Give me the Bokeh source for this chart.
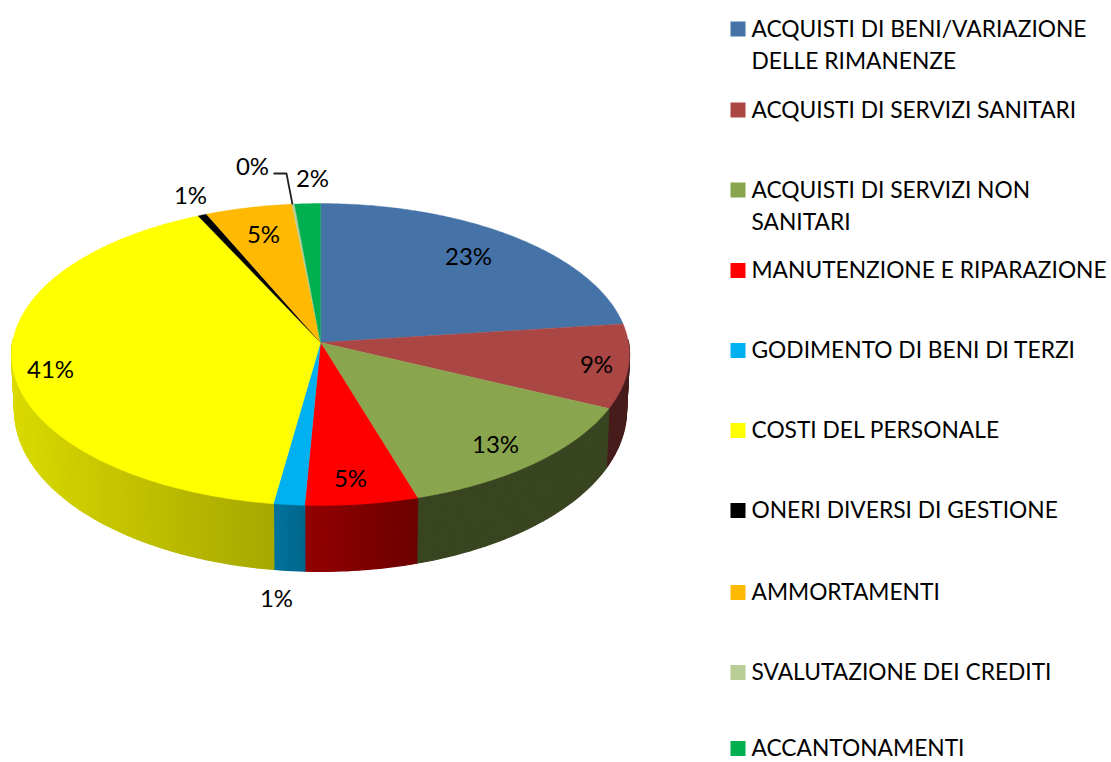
import numpy as np
from bokeh.plotting import figure
from bokeh.models import Range1d
from bokeh.core.properties import value
from bokeh.embed import file_html
from bokeh.resources import INLINE

categories = ["ACQUISTI DI BENI/VARIAZIONE\nDELLE RIMANENZE", "ACQUISTI DI SERVIZI SANITARI",
              "ACQUISTI DI SERVIZI NON\nSANITARI", "MANUTENZIONE E RIPARAZIONE",
              "GODIMENTO DI BENI DI TERZI", "COSTI DEL PERSONALE",
              "ONERI DIVERSI DI GESTIONE", "AMMORTAMENTI",
              "SVALUTAZIONE DEI CREDITI", "ACCANTONAMENTI"]
values = [23.0, 9.0, 13.3, 5.45, 1.5, 40.75, 0.5, 4.9, 0.15, 1.45]
labels = ["23%", "9%", "13%", "5%", "1%", "41%", "1%", "5%", "0%", "2%"]
colors = ["#4572A7", "#AA4643", "#89A54E", "#FF0000", "#00B0F0",
          "#FFFF00", "#000000", "#FFB900", "#B9CD96", "#00B050"]

label_x = [468, 596, 495, 350, 276, 50, 190, 263, 252, 312]
label_y = [254.5, 362.5, 442.5, 476.5, 596.5, 367.5, 193.5, 232.5, 164.5, 176.5]
legend_y = [28.5, 109.5, 189.5, 270, 350, 430, 510, 592, 672, 748]

FONT = value("Lato")
LEGEND_SIZE = "22.75px"
LABEL_SIZE = "24px"

p = figure(width=1111, height=762, output_backend="svg", toolbar_location=None,
           x_range=Range1d(0, 1111), y_range=Range1d(762, 0),
           min_border=0, outline_line_color=None, background_fill_color="white")
p.axis.visible = False
p.grid.visible = False

CX, K = 320.0, 0.0795


def top_pt(t):
    X, Y = np.sin(t), np.cos(t)
    d = 1 + K * Y
    return CX + 308 * X / d, 342 - 150 * Y / d


def bot_pt(t):
    X, Y = np.sin(t), np.cos(t)
    d = 1 + K * Y
    return CX + 305 * X / d, 397 - 160 * Y / d


def shade(X):
    return np.interp(X, [-1, -0.14, -0.05, 0.3, 1], [0.86, 0.66, 0.58, 0.42, 0.42])


def scaled(c, f):
    r, g, b = int(c[1:3], 16), int(c[3:5], 16), int(c[5:7], 16)
    return "#%02X%02X%02X" % (int(r * f), int(g * f), int(b * f))


edges = np.cumsum([0] + values) / sum(values) * 2 * np.pi

# side wall
sx, sy, sc = [], [], []
for i, c in enumerate(colors):
    a0, a1 = edges[i], edges[i + 1]
    n = max(1, int((a1 - a0) / np.radians(1.0)))
    grid = np.linspace(a0, a1, n + 1)
    for u, v in zip(grid[:-1], grid[1:]):
        if np.cos((u + v) / 2) >= 0.02:
            continue
        ts = np.array([u, v])
        xt, yt = top_pt(ts)
        xb, yb = bot_pt(ts)
        sx.append([xt[0], xt[1], xb[1], xb[0]])
        sy.append([yt[0], yt[1], yb[1], yb[0]])
        sc.append(scaled(c, shade(np.sin((u + v) / 2))))
p.patches(sx, sy, fill_color=sc, line_color=sc, line_width=1.3)

# top face
fx, fy = [], []
for i in range(len(values)):
    ts = np.linspace(edges[i], edges[i + 1], max(3, int(values[i] * 6)))
    xt, yt = top_pt(ts)
    fx.append([CX] + list(xt))
    fy.append([342.0] + list(yt))
p.patches(fx, fy, fill_color=colors, line_color=colors, line_width=0.4)

# leader line of the 0% label
p.line([273, 286, 292], [173, 173, 204], line_color="#222222", line_width=1.8)

p.text(label_x, label_y, text=labels, text_font=FONT, text_font_size=LABEL_SIZE,
       text_color="black", text_align="center", text_baseline="middle")

# legend
p.quad(left=[730] * 10, right=[745] * 10,
       top=[y - 7.5 for y in legend_y], bottom=[y + 7.5 for y in legend_y],
       fill_color=colors, line_color=None)
tx, ty, tt = [], [], []
for name, y in zip(categories, legend_y):
    for j, line in enumerate(name.split("\n")):
        tx.append(751)
        ty.append(y + j * 32 - 1)
        tt.append(line)
p.text(tx, ty, text=tt, text_font=FONT, text_font_size=LEGEND_SIZE, text_color="black",
       text_align="left", text_baseline="middle")

open("out.html", "w").write(file_html(p, INLINE))
